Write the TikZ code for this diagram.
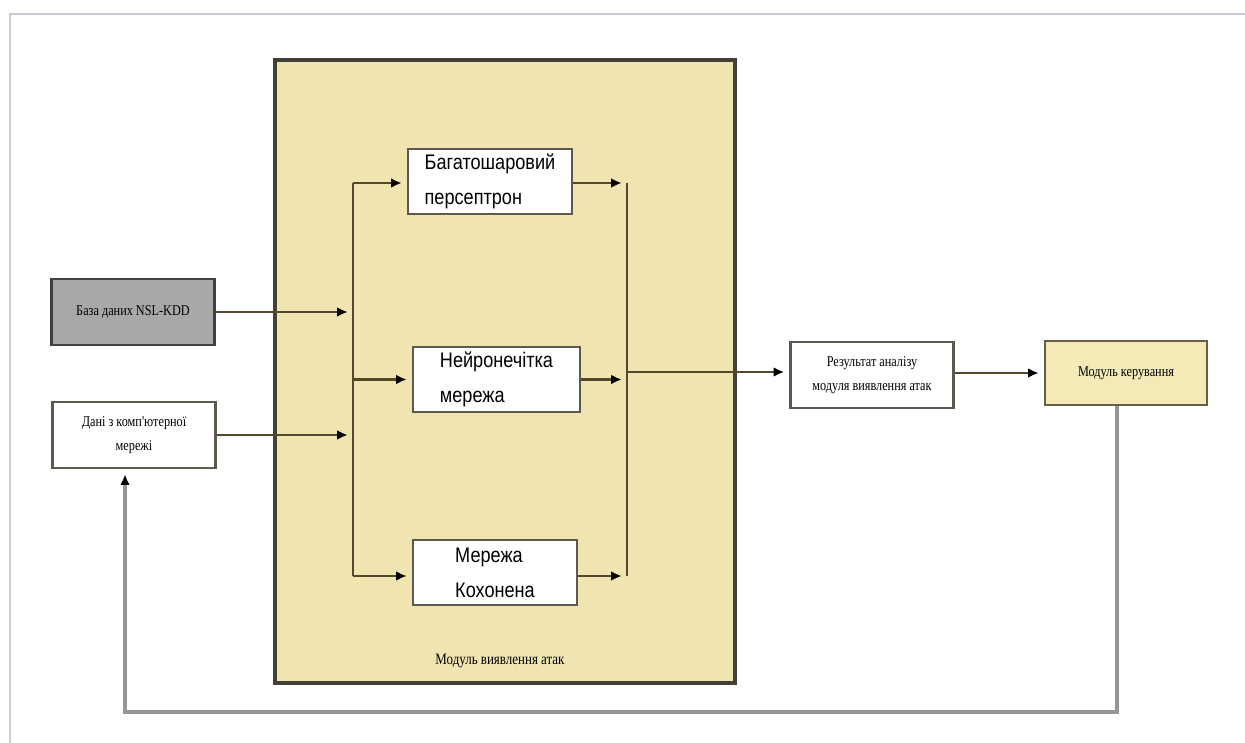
\documentclass[tikz,border=0pt]{standalone}
\usepackage{fontspec}
\setmainfont{Liberation Sans}
\newfontfamily\narrowserif[FakeStretch=0.82]{Liberation Serif}
\newfontfamily\narrowsans[FakeStretch=0.86]{Liberation Sans}
\usetikzlibrary{arrows.meta}
\definecolor{khaki}{RGB}{240,228,176}
\definecolor{khakilight}{RGB}{244,234,184}
\definecolor{dbgray}{RGB}{168,168,168}
\definecolor{edge}{RGB}{92,90,80}
\definecolor{wire}{RGB}{82,72,44}
\definecolor{frame}{RGB}{200,202,214}
\definecolor{feedback}{RGB}{150,150,150}
\begin{document}
\begin{tikzpicture}[x=0.02cm,y=-0.02cm,
  box/.style={draw=edge,line width=1.2pt,fill=white,inner sep=2pt},
  model/.style={box,minimum width=3.28cm,minimum height=1.3cm,align=left,font=\narrowsans\fontsize{12}{20}\selectfont},
  small/.style={box,minimum width=3.26cm,minimum height=1.32cm,align=center,font=\narrowserif\fontsize{8.5}{14}\selectfont},
  wirel/.style={draw=wire,line width=1.3pt},
  tip/.style={-{Latex[length=6pt,width=5.5pt,black]},shorten >=3pt},
  arr/.style={wirel,tip}]
\useasboundingbox (0,0) rectangle (1245,743);
\draw[frame,line width=1.6pt] (10,743) -- (10,14) -- (1245,14);

\node[draw=black!85!yellow,line width=1.8pt,fill=khaki,minimum width=9.2cm,minimum height=12.46cm] (detect) at (505,371.5) {};
\node[font=\narrowserif\fontsize{9}{11}\selectfont] (detectlbl) at (500,661) {Модуль виявлення атак};

\node[model] (mlp) at (490,181.5) {Багатошаровий\\персептрон};
\node[model,minimum width=3.34cm] (fuzzy) at (496.5,379.5) {Нейронечітка\\мережа};
\node[model] (koh) at (495,572.5) {Мережа\\Кохонена};

\node[small,fill=dbgray,draw=black!75] (db) at (133,312) {База даних NSL-KDD};
\node[small] (net) at (134,435) {Дані з комп'ютерної\\мережі};
\node[small] (result) at (872,375) {Результат аналізу\\модуля виявлення атак};
\node[small,fill=khakilight,draw=black!70!yellow,minimum width=3.24cm,minimum height=1.28cm] (control) at (1126,373) {Модуль керування};

\coordinate (inbus) at (353,183);
\coordinate (inbusend) at (353,576);
\coordinate (outbus) at (627,183);
\coordinate (outbusend) at (627,576);
\coordinate (outtap) at (627,372);
\coordinate (fbright) at (1117,712);
\coordinate (fbleft) at (125,712);

\draw[wirel] (inbus) -- (inbusend);
\draw[arr] (db.east) -- (db.east -| inbus);
\draw[arr] (net.east) -- (net.east -| inbus);
\draw[arr] (inbus) -- (inbus -| mlp.west);
\draw[arr] (inbus |- fuzzy.west) -- (fuzzy.west);
\draw[arr] (inbusend) -- (inbusend -| koh.west);

\draw[wirel] (outbus) -- (outbusend);
\draw[arr] (mlp.east |- outbus) -- (outbus);
\draw[arr] (fuzzy.east) -- (fuzzy.east -| outbus);
\draw[arr] (koh.east |- outbusend) -- (outbusend);
\draw[arr] (outtap) -- (outtap -| result.west);
\draw[arr] (result.east |- control.west) -- (control.west);

\draw[feedback,line width=2pt,tip]
  (control.south -| fbright) -- (fbright) -- (fbleft) -- (net.south -| fbleft);
\end{tikzpicture}
\end{document}
